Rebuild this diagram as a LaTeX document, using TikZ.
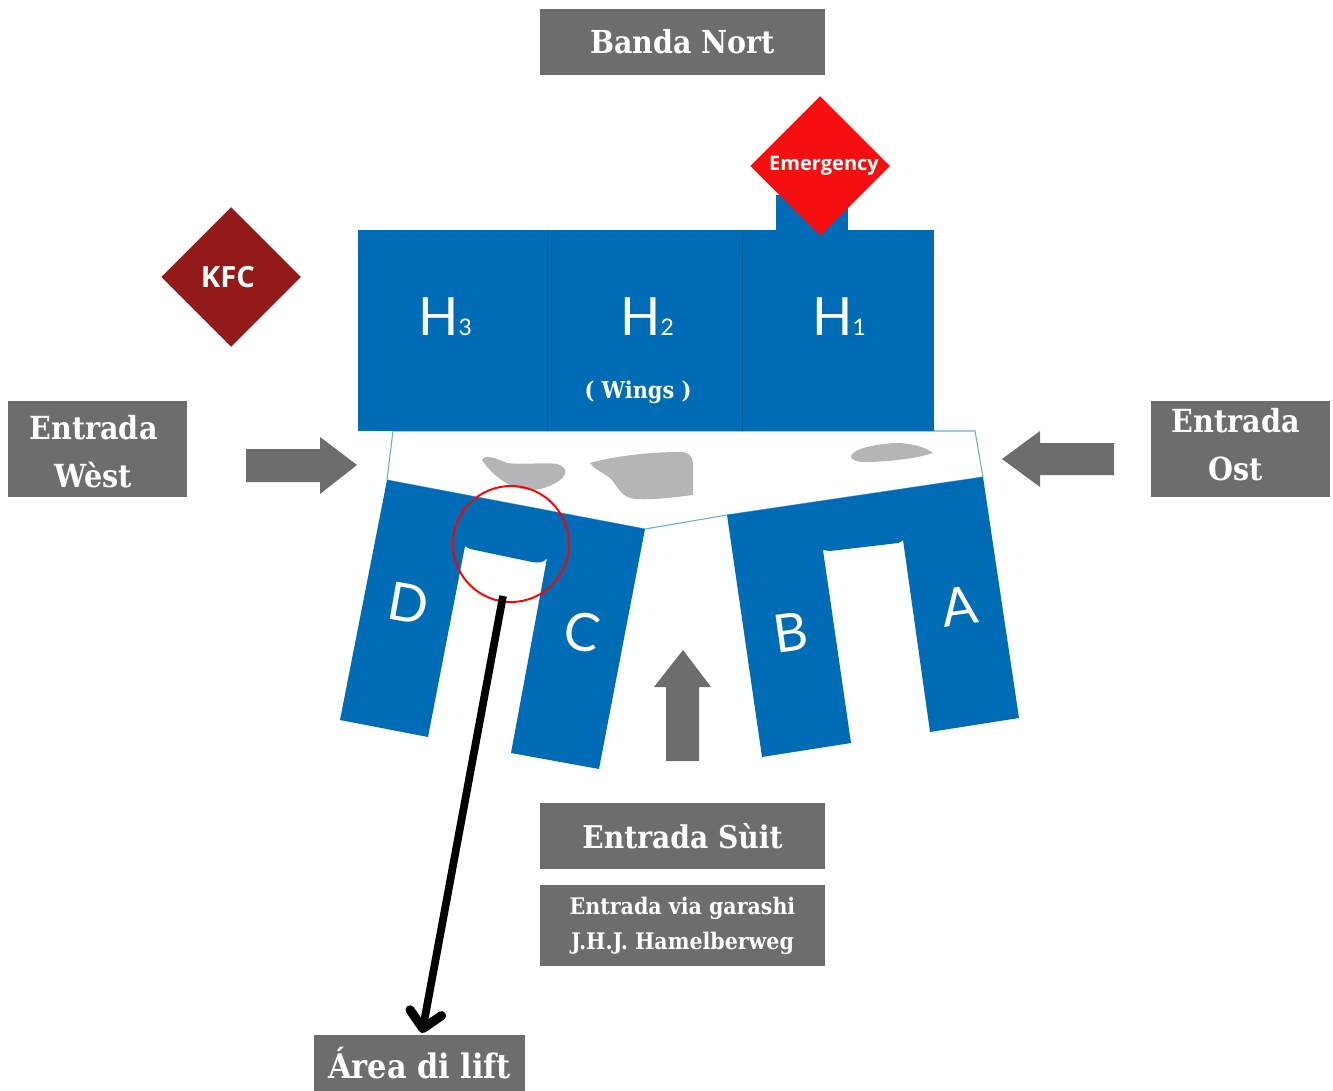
\documentclass[tikz,border=0pt]{standalone}
\usepackage{fontspec}
\setmainfont{DejaVu Serif Condensed}
\newfontfamily\labelfont{Lato}
\newfontfamily\smallfont{Open Sans}
\usetikzlibrary{arrows.meta,shapes.geometric}

\definecolor{wingblue}{HTML}{006CB5}
\definecolor{edgeblue}{HTML}{6AA9DC}
\definecolor{boxgray}{HTML}{6D6D6D}
\definecolor{blobgray}{HTML}{B5B5B8}
\definecolor{kfcred}{HTML}{921A1A}
\definecolor{emergred}{HTML}{F50F0F}

\newcommand{\wingsub}[1]{{\fontsize{6.5}{6.5}\selectfont #1}}

\tikzset{
	signbox/.style={fill=boxgray, text=white, font=\bfseries, align=center, inner sep=0pt},
	signtext/.style={text=white, align=center, inner sep=0pt, font=\bfseries\fontsize{9.05}{13.7}\selectfont},
	wingtext/.style={text=white, font=\labelfont\fontsize{15}{15}\selectfont},
	spot/.style={fill=blobgray, draw=none},
	diamondsign/.style={diamond, aspect=1, inner sep=0pt, minimum size=1.4cm, text=white}
}

\begin{document}
\begin{tikzpicture}[x=0.01cm, y=-0.01cm]
		\useasboundingbox (0, 0) rectangle (1333, 1091);

		\coordinate (a) at (358, 230);
		\coordinate (b) at (934, 431);
		\coordinate (c) at (393, 431);
		\coordinate (d) at (387, 480);
		\coordinate (e) at (645, 529);
		\coordinate (f) at (727, 515);
		\coordinate (g) at (983, 477);
		\coordinate (h) at (975, 431);
		\coordinate (m) at (503, 596);
		\coordinate (n) at (422, 1033);

		% walkway
		\draw[edgeblue, line width=0.3pt] (c) -- (d) -- (e) -- (f) -- (g) -- (h) -- cycle;
		\draw[spot] (482, 460) .. controls (485, 454) and (495, 458) .. (507, 463) .. controls (525, 465) and (545, 462) .. (557, 464) .. controls (568, 467) and (568, 476) .. (557, 482) .. controls (548, 488) and (535, 492) .. (522, 489) .. controls (505, 486) and (490, 472) .. cycle;
		\draw[spot] (590, 463) .. controls (615, 456) and (650, 452) .. (680, 452) .. controls (690, 452) and (693, 458) .. (693, 464) -- (693, 495) .. controls (670, 498) and (650, 500) .. (635, 499) .. controls (620, 497) and (618, 486) .. (610, 478) .. controls (602, 472) and (594, 469) .. cycle;
		\draw[spot] (851, 456) .. controls (853, 449) and (875, 444) .. (895, 443) .. controls (912, 443) and (925, 447) .. (933, 453) .. controls (915, 459) and (885, 462) .. (865, 462) .. controls (856, 462) and (851, 460) .. cycle;

		% blocks
		\fill[wingblue] (776, 195) rectangle (848, 232);
		\fill[wingblue] (a) rectangle (b);
		\draw[wingblue!85!black, line width=0.2pt] (547, 230) -- (547, 431);
		\draw[wingblue!85!black, line width=0.2pt] (742, 230) -- (742, 431);
		\fill[wingblue] (d) -- (e) -- (599, 769) -- (511, 753) -- (547, 558) .. controls (544, 563) and (538, 563) .. (532, 562) -- (470, 549) -- (465, 546) -- (428, 737) -- (340, 720) -- cycle;
		\fill[wingblue] (f) -- (g) -- (1019, 718) -- (930, 732) -- (903, 540) .. controls (900, 544) and (895, 543) .. (890, 544) -- (830, 551) -- (823, 550) -- (851, 743) -- (762, 757) -- cycle;

		% arrows
		\fill[boxgray] (246, 449) -- (320, 449) -- (320, 437) -- (357, 465) -- (320, 494) -- (320, 482) -- (246, 482) -- cycle;
		\fill[boxgray] (1114, 443) -- (1040, 443) -- (1040, 431) -- (1002, 459) -- (1040, 487) -- (1040, 475) -- (1114, 475) -- cycle;
		\fill[boxgray] (666, 761) -- (666, 687) -- (654, 687) -- (683, 650) -- (711, 687) -- (699, 687) -- (699, 761) -- cycle;

		\node[diamondsign, fill=kfcred, font=\smallfont\bfseries\fontsize{8.3}{8.3}\selectfont] (kfc) at (231, 277) {\hspace{-0.6mm}KFC};
		\node[diamondsign, fill=emergred, font=\smallfont\bfseries\fontsize{5.7}{5.7}\selectfont] (emergency) at (820, 166) {\hspace{0.8mm}\raisebox{-0.3mm}{Emergency}};

		\node[wingtext] (h3) at (445, 317) {H\wingsub{3}};
		\node[wingtext] (h2) at (647, 317) {H\wingsub{2}};
		\node[wingtext] (h1) at (839, 317) {H\wingsub{1}};
		\node[text=white, font=\bfseries\fontsize{6.6}{6.6}\selectfont] (wings) at (638, 392) {( Wings )};
		\node[wingtext, rotate=-10] (wingd) at (409, 603) {D};
		\node[wingtext, rotate=-10] (wingc) at (582, 632) {C};
		\node[wingtext, rotate=8] (wingb) at (791, 632) {B};
		\node[wingtext, rotate=8] (winga) at (960, 606) {A};

		\node[signbox, minimum width=2.85cm, minimum height=0.66cm, font=\bfseries\fontsize{9}{9}\selectfont] (north) at (682.5, 42) {\raisebox{0.1mm}{Banda Nort}};
		\node[signbox, minimum width=1.79cm, minimum height=0.96cm] (west) at (97.5, 449) {};
		\node[signtext] (westtext) at (93.5, 452) {Entrada\\Wèst};
		\node[signbox, minimum width=1.79cm, minimum height=0.96cm] (east) at (1240.5, 449) {};
		\node[signtext] (easttext) at (1236, 445) {Entrada\\Ost};
		\node[signbox, minimum width=2.85cm, minimum height=0.66cm, font=\bfseries\fontsize{8.9}{8.9}\selectfont] (south) at (682.5, 836) {Entrada Sùit};
		\node[signbox, minimum width=2.85cm, minimum height=0.81cm, font=\bfseries\fontsize{6.5}{10}\selectfont] (garage) at (682.5, 925.5) {\raisebox{-0.1mm}{Entrada via garashi}\\\raisebox{-0.1mm}{J.H.J. Hamelberweg}};
		\node[signbox, minimum width=2.11cm, minimum height=0.56cm, font=\bfseries\fontsize{9.6}{9.6}\selectfont] (lift) at (419.5, 1063) {Área di lift};

		\draw[red, line width=0.55pt] (511, 544) circle (58);
		\draw[black, line width=2.2pt, -{Straight Barb[round, length=1.6mm, width=3.2mm, line width=2.6pt]}] (m) -- (n);
	\end{tikzpicture}
\end{document}
